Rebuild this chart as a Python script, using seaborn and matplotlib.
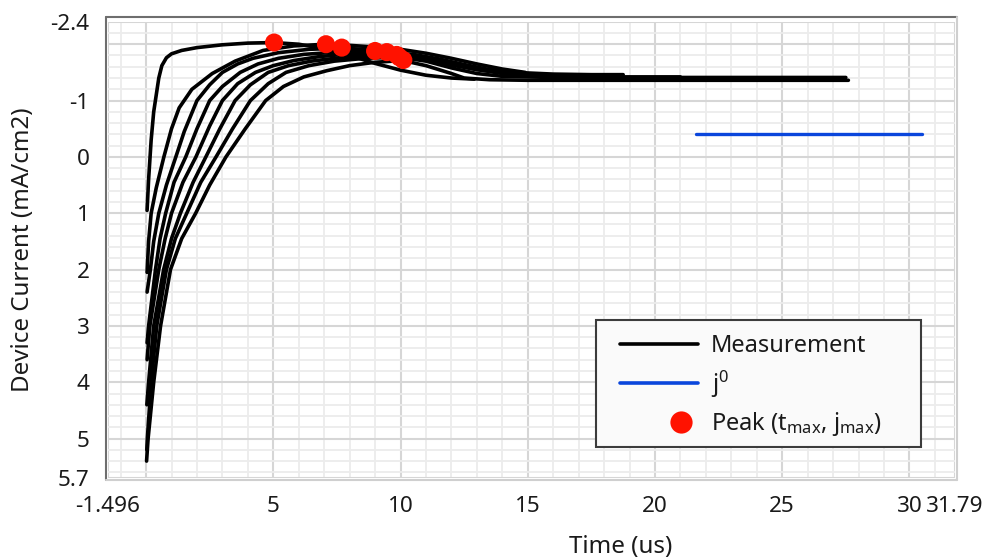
import matplotlib
matplotlib.use("Agg")
import matplotlib.pyplot as plt
import numpy as np
import pandas as pd
import seaborn as sns
from matplotlib.lines import Line2D
from matplotlib.patches import Rectangle
from matplotlib.legend_handler import HandlerLine2D
from matplotlib.ticker import MultipleLocator, FixedLocator
from matplotlib.transforms import ScaledTranslation

# ---------------- data ----------------
c1_t = [0.04, 0.1, 0.2, 0.3, 0.4, 0.5, 0.62, 0.8, 1.0, 1.4, 2.0, 3.0, 4.0, 5.0, 6.0, 7.0, 8.0, 9.0, 10.0, 11.0, 12.0, 12.9]
c1_j = [0.95, 0.4, -0.3, -0.8, -1.1, -1.4, -1.62, -1.76, -1.83, -1.89, -1.94, -1.99, -2.02, -2.03, -2.0, -1.92, -1.8, -1.66, -1.54, -1.45, -1.4, -1.38]

c2_t = [0.04, 0.1, 0.2, 0.4, 0.7, 1.0, 1.3, 1.8, 2.6, 3.5, 4.6, 5.8, 7.05, 8.0, 9.0, 10.0, 11.0, 12.0, 13.0, 14.0, 14.9]
c2_j = [2.05, 1.5, 1.0, 0.55, 0.0, -0.5, -0.87, -1.2, -1.48, -1.7, -1.89, -1.97, -2.0, -1.98, -1.95, -1.91, -1.84, -1.75, -1.65, -1.56, -1.5]

c3_t = [0.04, 0.17, 0.3, 0.5, 0.8, 1.17, 1.5, 2.0, 2.5, 3.0, 3.6, 4.2, 5.2, 6.4, 7.68, 9.0, 10.0, 11.0, 12.0, 13.0, 14.0, 15.0, 15.6]
c3_j = [2.4, 2.0, 1.5, 1.0, 0.5, 0.0, -0.45, -1.0, -1.28, -1.5, -1.65, -1.75, -1.85, -1.91, -1.93, -1.9, -1.84, -1.74, -1.63, -1.55, -1.5, -1.47, -1.46]

c4_t = [0.04, 0.1, 0.37, 0.55, 0.77, 1.1, 1.56, 2.0, 2.5, 3.0, 3.7, 4.4, 5.2, 6.2, 7.5, 8.99, 10.0, 11.0, 12.0, 13.0, 14.0, 15.0, 16.0, 17.0, 18.2]
c4_j = [3.3, 3.0, 2.0, 1.45, 1.0, 0.45, 0.0, -0.5, -1.0, -1.25, -1.5, -1.65, -1.75, -1.82, -1.86, -1.875, -1.84, -1.76, -1.66, -1.57, -1.5, -1.46, -1.44, -1.43, -1.42]

c5_t = [0.04, 0.15, 0.5, 0.75, 1.0, 1.45, 1.96, 2.5, 3.0, 3.6, 4.3, 5.0, 5.8, 6.8, 8.0, 9.45, 10.5, 11.5, 12.5, 13.5, 14.5, 16.0, 17.5, 18.75]
c5_j = [3.6, 3.0, 2.0, 1.45, 1.0, 0.45, 0.0, -0.55, -1.0, -1.3, -1.5, -1.62, -1.71, -1.78, -1.83, -1.85, -1.82, -1.74, -1.64, -1.55, -1.5, -1.47, -1.46, -1.46]

c6_t = [0.03, 0.1, 0.3, 0.69, 1.0, 1.35, 1.85, 2.35, 2.9, 3.5, 4.1, 4.8, 5.6, 6.5, 7.6, 8.7, 9.85, 11.0, 12.0, 13.0, 14.0, 15.0, 17.0, 19.0, 21.0]
c6_j = [4.4, 4.0, 3.0, 2.0, 1.45, 1.0, 0.45, 0.0, -0.5, -1.0, -1.28, -1.5, -1.62, -1.7, -1.76, -1.79, -1.8, -1.75, -1.65, -1.55, -1.48, -1.44, -1.42, -1.42, -1.42]

c7_t = [0.03, 0.05, 0.2, 0.42, 0.8, 1.15, 1.6, 2.15, 2.75, 3.4, 4.1, 4.8, 5.5, 6.4, 7.4, 8.6, 9.95, 11.0, 12.0, 13.0, 14.0, 16.0, 18.0, 20.0, 22.0, 24.0, 26.0, 27.5]
c7_j = [5.2, 5.0, 4.0, 3.0, 2.0, 1.45, 1.0, 0.45, 0.0, -0.5, -1.0, -1.3, -1.5, -1.62, -1.7, -1.75, -1.77, -1.7, -1.58, -1.48, -1.43, -1.41, -1.41, -1.41, -1.41, -1.41, -1.41, -1.41]

c8_t = [0.02, 0.08, 0.3, 0.57, 0.96, 1.4, 1.95, 2.5, 3.14, 3.9, 4.7, 5.4, 6.2, 7.1, 8.0, 9.0, 10.1, 11.0, 12.0, 12.5, 13.5, 15.0, 18.0, 21.0, 24.0, 27.6]
c8_j = [5.4, 5.0, 4.0, 3.0, 2.0, 1.45, 1.0, 0.5, 0.0, -0.5, -1.0, -1.25, -1.42, -1.53, -1.62, -1.68, -1.71, -1.62, -1.48, -1.4, -1.37, -1.36, -1.36, -1.36, -1.36, -1.36]

peak_t = [5.03, 7.07, 7.69, 9.0, 9.46, 9.85, 9.95, 10.11]
peak_j = [-2.03, -2.0, -1.94, -1.88, -1.86, -1.81, -1.77, -1.72]

j0_t = [21.6, 30.5]
j0_j = [-0.4, -0.4]

x_ticks = [-1.496, 0, 5, 10, 15, 20, 25, 30, 31.79]
x_tick_labels = ["-1.496", "", "5", "10", "15", "20", "25", "30", "31.79"]
y_ticks = [-2.4, -2, -1, 0, 1, 2, 3, 4, 5, 5.7]
y_tick_labels = ["-2.4", "", "-1", "0", "1", "2", "3", "4", "5", "5.7"]

x_label = "Time (us)"
y_label = "Device Current (mA/cm2)"
legend_labels = ["Measurement", r"j$^{\mathrm{0}}$", r"Peak (t$_{\mathrm{max}}$, j$_{\mathrm{max}}$)"]

# ---------------- style ----------------
sns.set_style("white")
plt.rcParams["font.family"] = ["Noto Sans", "DejaVu Sans"]
plt.rcParams["mathtext.fontset"] = "custom"
plt.rcParams["mathtext.rm"] = "Noto Sans"
plt.rcParams["mathtext.it"] = "Noto Sans:italic"
plt.rcParams["mathtext.bf"] = "Noto Sans:bold"

TEXT = "#1a1a1a"
BLACK = "#000000"
BLUE = "#0a46dc"
RED = "#ff1200"
FS = 17.4      # axis titles
FS_TICK = 16.2
FS_LEG = 17.0

W, H = 983, 560
fig = plt.figure(figsize=(W / 100, H / 100), dpi=100)
fig.patch.set_facecolor("white")

L, R, T, B = 108, 955, 21.7, 478
ax = fig.add_axes([L / W, 1 - B / H, (R - L) / W, (B - T) / H])

curves = [(c1_t, c1_j), (c2_t, c2_j), (c3_t, c3_j), (c4_t, c4_j),
          (c5_t, c5_j), (c6_t, c6_j), (c7_t, c7_j), (c8_t, c8_j)]
df = pd.concat([pd.DataFrame({"time": t, "current": j, "curve": i})
                for i, (t, j) in enumerate(curves)], ignore_index=True)

sns.lineplot(data=df, x="time", y="current", units="curve", estimator=None,
             sort=False, color=BLACK, linewidth=2.6, ax=ax, legend=False)
sns.lineplot(x=j0_t, y=j0_j, color=BLUE, linewidth=2.4, ax=ax, legend=False)
sns.scatterplot(x=peak_t, y=peak_j, color=RED, s=170, edgecolor="none",
                linewidth=0, ax=ax, zorder=5, legend=False)

ax.set_xlim(x_ticks[0], x_ticks[-1])
ax.set_ylim(y_ticks[-1], y_ticks[0])

ax.xaxis.set_major_locator(FixedLocator(x_ticks))
ax.set_xticklabels(x_tick_labels)
ax.yaxis.set_major_locator(FixedLocator(y_ticks))
ax.set_yticklabels(y_tick_labels)
ax.xaxis.set_minor_locator(MultipleLocator(1))
ax.yaxis.set_minor_locator(MultipleLocator(0.2))

ax.set_axisbelow(True)
ax.grid(which="major", color="#d6d6d6", linewidth=1.5)
ax.grid(which="minor", color="#ececec", linewidth=1.3)
ax.tick_params(which="minor", length=0)
ax.tick_params(which="major", direction="out", length=6, width=1.5,
               color="#303030", labelsize=FS_TICK, labelcolor=TEXT)
ax.tick_params(axis="x", pad=2.5)
ax.tick_params(axis="y", pad=2.2)

# nudge the last x label (31.79) a little left so it stays inside the figure
last_lbl = ax.get_xticklabels()[-1]
last_lbl.set_transform(last_lbl.get_transform() +
                       ScaledTranslation(-3 / 100, 0, fig.dpi_scale_trans))

for s in ax.spines.values():
    s.set_color("none")
ax.spines["left"].set_position(("outward", 5))
ax.spines["bottom"].set_position(("outward", 4.3))

ax.set_xlabel(x_label, fontsize=FS, color=TEXT, va="center")
ax.xaxis.set_label_coords((621 - L) / (R - L), (B - 547) / (B - T))
ax.set_ylabel(y_label, fontsize=FS, color=TEXT, va="center")
ax.yaxis.set_label_coords((23 - L) / (R - L), (B - 250) / (B - T))

# plot-area frame (LabVIEW style: dark top/left, light bottom/right)
def fx(x):
    return x / W

def fy(y):
    return 1 - y / H

fl, fr, ft, fb = 106, 957, 17, 480
fig.add_artist(Line2D([fx(fl), fx(fr)], [fy(ft), fy(ft)], color="#6e6e6e", lw=1.5, zorder=3))
fig.add_artist(Line2D([fx(fl), fx(fl)], [fy(ft), fy(fb)], color="#6e6e6e", lw=1.5, zorder=3))
fig.add_artist(Line2D([fx(fr), fx(fr)], [fy(ft), fy(fb)], color="#cfcfcf", lw=1.5, zorder=3))
fig.add_artist(Line2D([fx(fl), fx(fr)], [fy(fb), fy(fb)], color="#cfcfcf", lw=1.5, zorder=3))

# legend box
fig.add_artist(Rectangle((fx(596), fy(447)), (921 - 596) / W, (447 - 320) / H,
                         transform=fig.transFigure, facecolor="#fafafa",
                         edgecolor="#3c3c3c", lw=1.5, zorder=4))


class RightMarkerHandler(HandlerLine2D):
    """Draw the single legend marker towards the right end of the handle box."""
    def create_artists(self, legend, orig_handle, xdescent, ydescent,
                       width, height, fontsize, trans):
        x = -xdescent + 0.78 * width
        y = (height - ydescent) / 2.0
        m = Line2D([x], [y])
        self.update_prop(m, orig_handle, legend)
        m.set_linestyle("none")
        m.set_transform(trans)
        return [m]


h_meas = Line2D([], [], color=BLACK, lw=2.6)
h_j0 = Line2D([], [], color=BLUE, lw=2.6)
h_peak = Line2D([], [], color=RED, lw=0, marker="o", markersize=16, markeredgewidth=0)

leg = fig.legend(handles=[h_meas, h_j0, h_peak], labels=legend_labels,
                 loc="upper left", bbox_to_anchor=(fx(620), fy(334)),
                 bbox_transform=fig.transFigure, frameon=False, borderpad=0,
                 borderaxespad=0, handlelength=3.3, handletextpad=0.56,
                 labelspacing=0.45, fontsize=FS_LEG, labelcolor=TEXT,
                 handler_map={h_peak: RightMarkerHandler()})
leg.set_zorder(6)

fig.savefig("out.png", dpi=100, facecolor="white")
